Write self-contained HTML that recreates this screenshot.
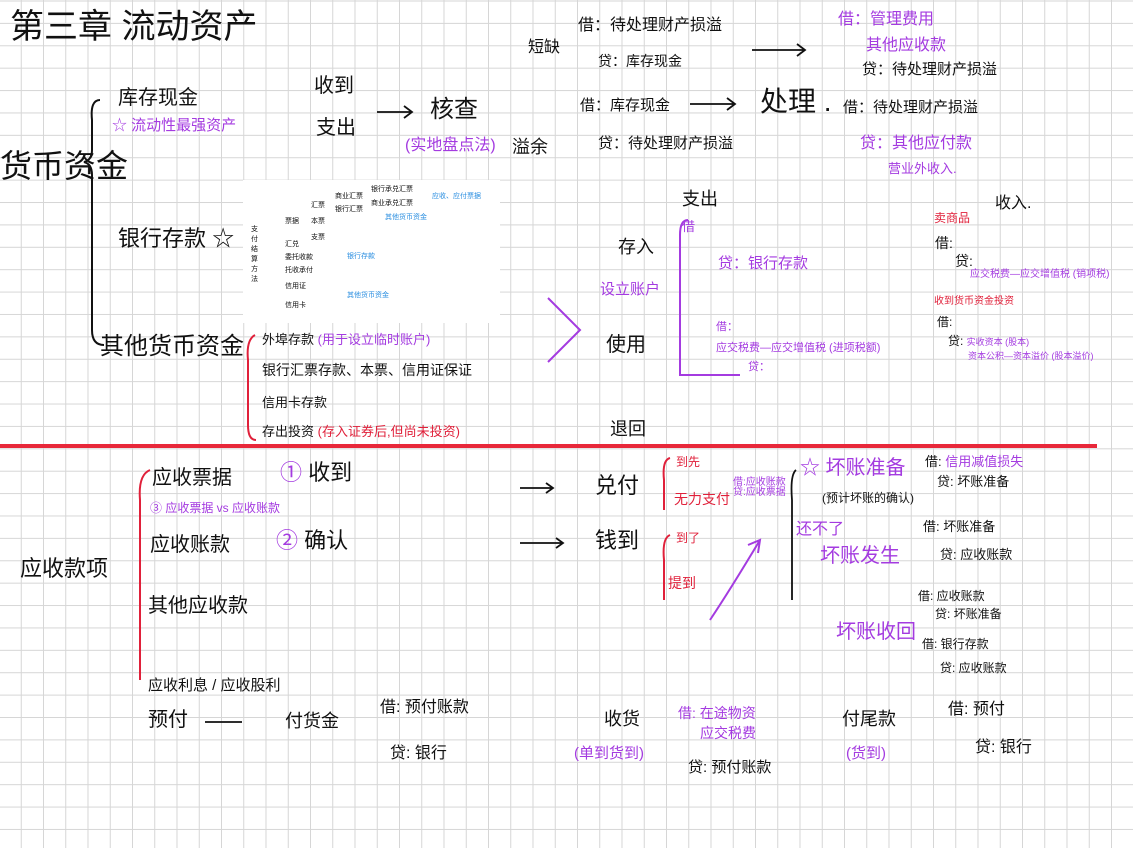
<!DOCTYPE html>
<html><head><meta charset="utf-8"><style>
body{margin:0;width:1133px;height:848px;overflow:hidden;background:#fff;
background-image:linear-gradient(to right,#d6d6d6 1px,transparent 1px),linear-gradient(to bottom,#d6d6d6 1px,transparent 1px);
background-size:22.25px 22.4px;background-position:-1.5px 0.5px;position:relative;
font-family:"Liberation Sans","WenQuanYi Zen Hei","Noto Sans CJK SC",sans-serif;color:#111}
.t{position:absolute;white-space:nowrap;line-height:1}
.p{color:#a43be0}.r{color:#e0203a}.b{color:#2a8ee0}
#inset{position:absolute;left:243px;top:180px;width:257px;height:143px;background:#fff}
#inset .t{font-size:7px}
</style></head><body>
<div class="t" style="left:10px;top:10px;font-size:34px">第三章 流动资产</div>
<div class="t" style="left:0;top:150px;font-size:32px">货币资金</div>
<svg style="position:absolute;left:0;top:0" width="1133" height="848">
<path d="M100 100 Q90 100 92 120 L92 150 Q92 160 84 162 Q92 164 92 175 L92 330 Q92 345 104 345" stroke="#111" stroke-width="2" fill="none"/>
<path d="M255 335 Q246 340 248 360 L248 425 Q248 440 256 440" stroke="#e0203a" stroke-width="2" fill="none"/>
<path d="M150 470 Q138 475 140 500 L140 680" stroke="#e0203a" stroke-width="2" fill="none"/>
<line x1="0" y1="446" x2="1097" y2="446" stroke="#e8283a" stroke-width="4"/>
<g stroke="#111" stroke-width="1.8" fill="none">
<path d="M377 112 L412 112 M404 106 L412 112 L404 118"/>
<path d="M690 104 L735 104 M727 98 L735 104 L727 110"/>
<path d="M752 50 L805 50 M797 44 L805 50 L797 56"/>
<path d="M520 488 L553 488 M546 483 L553 488 L546 493"/>
<path d="M520 543 L563 543 M556 538 L563 543 L556 548"/>
<path d="M205 722 L242 722"/>
<path d="M796 470 Q790 475 792 500 L792 600"/>
</g>
<g stroke="#a43be0" stroke-width="2" fill="none">
<path d="M548 298 L580 330 L548 362"/>
<path d="M688 220 Q680 220 680 235 L680 375 L740 375"/>
<path d="M710 620 Q730 590 760 540 M748 545 L760 540 L758 553"/>
</g>
<g stroke="#e0203a" stroke-width="2" fill="none">
<path d="M670 458 Q662 460 664 480 L664 510 M670 535 Q662 538 664 560 L664 600"/>
</g>
<path d="M355 215 Q365 222 375 215 Q385 222 395 216" stroke="#e0203a" stroke-width="2" fill="none"/>
</svg>
<div class="t" style="left:118px;top:88px;font-size:20px">库存现金</div>
<div class="t p" style="left:112px;top:118px;font-size:15px">☆ 流动性最强资产</div>
<div class="t" style="left:118px;top:228px;font-size:22px">银行存款 ☆</div>
<div class="t" style="left:100px;top:335px;font-size:24px">其他货币资金</div>
<div class="t" style="left:314px;top:76px;font-size:20px">收到</div>
<div class="t" style="left:316px;top:118px;font-size:20px">支出</div>
<div class="t" style="left:430px;top:98px;font-size:24px">核查</div>
<div class="t p" style="left:405px;top:138px;font-size:16px">(实地盘点法)</div>
<div class="t" style="left:512px;top:138px;font-size:18px">溢余</div>
<div class="t" style="left:528px;top:40px;font-size:16px">短缺</div>
<div class="t" style="left:578px;top:18px;font-size:16px">借：待处理财产损溢</div>
<div class="t" style="left:598px;top:54px;font-size:14px">贷：库存现金</div>
<div class="t" style="left:580px;top:98px;font-size:15px">借：库存现金</div>
<div class="t" style="left:598px;top:136px;font-size:15px">贷：待处理财产损溢</div>
<div class="t" style="left:760px;top:88px;font-size:28px">处理 .</div>
<div class="t p" style="left:838px;top:12px;font-size:16px">借：管理费用</div>
<div class="t p" style="left:866px;top:38px;font-size:16px">其他应收款</div>
<div class="t" style="left:862px;top:62px;font-size:15px">贷：待处理财产损溢</div>
<div class="t" style="left:843px;top:100px;font-size:15px">借：待处理财产损溢</div>
<div class="t p" style="left:860px;top:136px;font-size:16px">贷：其他应付款</div>
<div class="t p" style="left:888px;top:162px;font-size:13px">营业外收入.</div>
<div id="inset">
<div class="t" style="left:8px;top:45px;width:8px;white-space:normal;line-height:10px">支付结算方法</div>
<div class="t" style="left:42px;top:38px">票据</div>
<div class="t" style="left:68px;top:22px">汇票</div>
<div class="t" style="left:92px;top:13px">商业汇票</div>
<div class="t" style="left:92px;top:26px">银行汇票</div>
<div class="t" style="left:128px;top:6px">银行承兑汇票</div>
<div class="t" style="left:128px;top:20px">商业承兑汇票</div>
<div class="t b" style="left:189px;top:13px">应收、应付票据</div>
<div class="t" style="left:68px;top:38px">本票</div>
<div class="t b" style="left:142px;top:34px">其他货币资金</div>
<div class="t" style="left:68px;top:54px">支票</div>
<div class="t" style="left:42px;top:61px">汇兑</div>
<div class="t" style="left:42px;top:74px">委托收款</div>
<div class="t" style="left:42px;top:87px">托收承付</div>
<div class="t b" style="left:104px;top:73px">银行存款</div>
<div class="t" style="left:42px;top:103px">信用证</div>
<div class="t" style="left:42px;top:122px">信用卡</div>
<div class="t b" style="left:104px;top:112px">其他货币资金</div>
</div>
<div class="t" style="left:262px;top:333px;font-size:13px">外埠存款 <span class="p">(用于设立临时账户)</span></div>
<div class="t" style="left:262px;top:363px;font-size:14px">银行汇票存款、本票、信用证保证</div>
<div class="t" style="left:262px;top:396px;font-size:13px">信用卡存款</div>
<div class="t" style="left:262px;top:425px;font-size:13px">存出投资 <span class="r">(存入证券后,但尚未投资)</span></div>
<div class="t" style="left:682px;top:190px;font-size:18px">支出</div>
<div class="t p" style="left:682px;top:220px;font-size:13px">借</div>
<div class="t" style="left:618px;top:238px;font-size:18px">存入</div>
<div class="t p" style="left:600px;top:282px;font-size:15px">设立账户</div>
<div class="t p" style="left:718px;top:256px;font-size:15px">贷：银行存款</div>
<div class="t" style="left:606px;top:335px;font-size:20px">使用</div>
<div class="t p" style="left:716px;top:322px;font-size:11px">借：</div>
<div class="t p" style="left:716px;top:343px;font-size:11px">应交税费—应交增值税 (进项税额)</div>
<div class="t p" style="left:748px;top:362px;font-size:11px">贷：</div>
<div class="t" style="left:610px;top:420px;font-size:18px">退回</div>
<div class="t" style="left:995px;top:196px;font-size:16px">收入.</div>
<div class="t r" style="left:934px;top:212px;font-size:12px">卖商品</div>
<div class="t" style="left:935px;top:236px;font-size:14px">借:</div>
<div class="t" style="left:955px;top:254px;font-size:14px">贷:</div>
<div class="t p" style="left:970px;top:270px;font-size:10px">应交税费—应交增值税 (销项税)</div>
<div class="t r" style="left:934px;top:297px;font-size:10px">收到货币资金投资</div>
<div class="t" style="left:937px;top:316px;font-size:12px">借:</div>
<div class="t" style="left:948px;top:335px;font-size:12px">贷: <span class="p" style="font-size:9px">实收资本 (股本)</span></div>
<div class="t p" style="left:968px;top:352px;font-size:9px">资本公积—资本溢价 (股本溢价)</div>
<div class="t" style="left:152px;top:468px;font-size:20px">应收票据</div>
<div class="t p" style="left:150px;top:502px;font-size:12px">③ 应收票据 vs 应收账款</div>
<div class="t" style="left:150px;top:535px;font-size:20px">应收账款</div>
<div class="t" style="left:148px;top:596px;font-size:20px">其他应收款</div>
<div class="t" style="left:20px;top:558px;font-size:22px">应收款项</div>
<div class="t p" style="left:280px;top:462px;font-size:22px">① <span style="color:#111">收到</span></div>
<div class="t p" style="left:276px;top:530px;font-size:22px">② <span style="color:#111">确认</span></div>
<div class="t" style="left:595px;top:475px;font-size:22px">兑付</div>
<div class="t" style="left:595px;top:530px;font-size:22px">钱到</div>
<div class="t r" style="left:676px;top:456px;font-size:12px">到先</div>
<div class="t r" style="left:674px;top:492px;font-size:14px">无力支付</div>
<div class="t p" style="left:733px;top:478px;font-size:10px">借:应收账款<br>贷:应收票据</div>
<div class="t r" style="left:676px;top:532px;font-size:12px">到了</div>
<div class="t r" style="left:668px;top:576px;font-size:14px">提到</div>
<div class="t p" style="left:800px;top:458px;font-size:20px">☆ 坏账准备</div>
<div class="t" style="left:822px;top:492px;font-size:12px">(预计坏账的确认)</div>
<div class="t p" style="left:796px;top:522px;font-size:16px">还不了</div>
<div class="t p" style="left:820px;top:546px;font-size:20px">坏账发生</div>
<div class="t p" style="left:836px;top:622px;font-size:20px">坏账收回</div>
<div class="t" style="left:925px;top:455px;font-size:13px">借: <span class="p">信用减值损失</span></div>
<div class="t" style="left:937px;top:475px;font-size:13px">贷: 坏账准备</div>
<div class="t" style="left:923px;top:520px;font-size:13px">借: 坏账准备</div>
<div class="t" style="left:940px;top:548px;font-size:13px">贷: 应收账款</div>
<div class="t" style="left:918px;top:590px;font-size:12px">借: 应收账款</div>
<div class="t" style="left:935px;top:608px;font-size:12px">贷: 坏账准备</div>
<div class="t" style="left:922px;top:638px;font-size:12px">借: 银行存款</div>
<div class="t" style="left:940px;top:662px;font-size:12px">贷: 应收账款</div>
<div class="t" style="left:148px;top:678px;font-size:15px">应收利息 / 应收股利</div>
<div class="t" style="left:148px;top:710px;font-size:20px">预付</div>
<div class="t" style="left:285px;top:712px;font-size:18px">付货金</div>
<div class="t" style="left:380px;top:700px;font-size:16px">借: 预付账款</div>
<div class="t" style="left:390px;top:746px;font-size:16px">贷: 银行</div>
<div class="t" style="left:604px;top:710px;font-size:18px">收货</div>
<div class="t p" style="left:574px;top:746px;font-size:15px">(单到货到)</div>
<div class="t p" style="left:678px;top:706px;font-size:14px">借: 在途物资</div>
<div class="t p" style="left:700px;top:726px;font-size:14px">应交税费</div>
<div class="t" style="left:688px;top:760px;font-size:15px">贷: 预付账款</div>
<div class="t" style="left:842px;top:710px;font-size:18px">付尾款</div>
<div class="t p" style="left:846px;top:746px;font-size:15px">(货到)</div>
<div class="t" style="left:948px;top:702px;font-size:16px">借: 预付</div>
<div class="t" style="left:975px;top:740px;font-size:16px">贷: 银行</div>
</body></html>
